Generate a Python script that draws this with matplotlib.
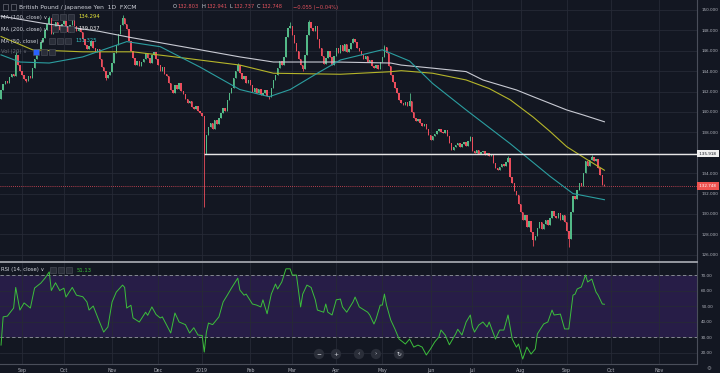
import matplotlib.pyplot as plt
import numpy as np
import pandas as pd
from matplotlib.patches import Rectangle

# GBP/JPY daily closes (FXCM), one per business day from 2018-08-20
closes = [
    142.2, 142.7, 143.0, 142.8, 143.4, 143.7, 143.5, 145.6, 144.6, 144.0,   # 0
    143.6, 143.2, 143.0, 143.5, 143.3, 144.3, 145.2, 146.0, 146.2, 146.9,   # 10
    147.3, 148.0, 148.6, 149.2, 147.6, 148.3, 148.8, 148.5, 148.0, 148.6,   # 20
    148.9, 148.3, 147.8, 148.5, 149.0, 148.4, 147.9, 148.2, 147.8, 147.2,   # 30
    146.6, 146.2, 146.5, 147.0, 146.3, 145.9, 146.2, 145.2, 144.4, 144.0,   # 40
    143.3, 143.6, 143.9, 144.8, 145.8, 146.6, 147.6, 148.5, 149.2, 148.6,   # 50
    148.1, 147.0, 146.0, 145.3, 144.6, 145.0, 144.5, 144.9, 145.2, 145.8,   # 60
    145.3, 144.8, 145.6, 145.9, 145.2, 144.6, 144.0, 144.4, 143.7, 143.5,   # 70
    142.8, 142.2, 141.9, 142.6, 142.3, 142.8, 142.1, 141.8, 141.3, 140.9,   # 80
    141.1, 140.5, 140.3, 140.6, 140.1, 139.9, 139.6, 135.92, 137.7, 138.5,  # 90
    138.9, 138.3, 139.2, 138.8, 139.4, 139.9, 140.4, 140.1, 141.2, 141.9,   # 100
    142.4, 143.3, 144.0, 144.6, 143.8, 143.2, 143.5, 142.8, 143.1, 142.6,   # 110
    142.0, 142.4, 141.9, 142.3, 141.7, 141.9, 142.2, 141.6, 141.5, 142.4,   # 120
    143.1, 143.6, 144.3, 145.0, 144.6, 145.4, 147.4, 148.2, 148.4, 147.5,   # 130
    146.8, 146.0, 145.2, 144.6, 144.2, 145.6, 147.5, 148.8, 148.2, 147.9,   # 140
    148.4, 147.2, 146.3, 145.5, 144.7, 145.3, 146.0, 145.4, 144.6, 145.5,   # 150
    146.3, 145.8, 146.6, 146.0, 146.7, 145.9, 146.2, 146.8, 147.2, 146.9,   # 160
    146.3, 146.0, 145.6, 145.2, 145.5, 144.9, 145.1, 144.5, 144.3, 144.6,   # 170
    144.2, 144.9, 145.4, 146.4, 145.8, 144.5, 143.6, 142.9, 142.4, 141.9,   # 180
    141.2, 140.9, 140.7, 141.0, 140.6, 141.1, 140.0, 139.4, 139.1, 139.3,   # 190
    138.9, 138.6, 138.8, 138.3, 137.7, 137.3, 137.6, 137.8, 138.1, 138.3,   # 200
    138.0, 137.9, 138.2, 137.6, 137.0, 136.3, 136.6, 136.8, 137.0, 136.6,   # 210
    136.9, 137.1, 136.7, 137.2, 137.5, 136.2, 136.0, 136.3, 135.9, 136.1,   # 220
    136.2, 135.8, 136.0, 135.7, 135.9, 135.0, 134.5, 134.3, 134.6, 134.9,   # 230
    134.7, 135.1, 135.5, 133.6, 133.0, 132.3, 131.9, 131.0, 130.2, 129.4,   # 240
    129.9, 128.7, 129.3, 128.2, 127.4, 127.8, 128.6, 129.2, 128.5, 129.0,   # 250
    129.4, 128.9, 129.6, 130.3, 129.8, 129.6, 130.1, 129.4, 129.9, 129.2,   # 260
    128.3, 127.5, 130.2, 131.8, 131.5, 132.4, 133.0, 132.7, 134.0, 135.2,   # 270
    134.7, 135.3, 135.6, 135.2, 135.4, 134.5, 133.8, 132.803, 132.748,      # 280
]
first_open = 141.3

# wicks that stand out of the bodies
wick_highs = {7: 145.9, 23: 149.4, 34: 149.2, 58: 149.5, 113: 144.8, 138: 148.8,
              147: 149.0, 168: 147.3, 183: 146.6, 195: 141.9, 224: 137.6,
              242: 135.7, 282: 135.8, 288: 132.941}
wick_lows = {12: 142.9, 50: 143.1, 97: 130.7, 128: 141.3, 144: 144.0,
             254: 126.9, 271: 126.8, 288: 132.737}

# moving averages: (bar, value)
ma100_pts = [(0, 147.4), (15, 146.1), (39, 145.9), (63, 145.9), (87, 145.3), (114, 144.6),
             (130, 143.8), (162, 143.7), (186, 143.95), (191, 144.05), (206, 143.8),
             (222, 143.14), (233, 142.3), (243, 141.2), (254, 139.5), (262, 138.1),
             (270, 136.6), (280, 135.3), (288, 134.29)]
ma200_pts = [(0, 149.4), (20, 148.7), (47, 147.9), (62, 147.3), (95, 146.1), (114, 145.4),
             (130, 144.9), (160, 144.9), (186, 144.8), (191, 144.6), (206, 144.3),
             (222, 143.96), (230, 143.14), (238, 142.65), (246, 142.16), (254, 141.5),
             (262, 140.85), (270, 140.2), (278, 139.7), (288, 139.04)]
ma50_pts = [(0, 145.6), (9, 144.9), (23, 144.8), (39, 145.4), (60, 146.9), (76, 146.4),
            (95, 144.4), (114, 142.2), (128, 141.5), (138, 142.2), (151, 143.8),
            (162, 145.1), (182, 146.1), (195, 145.0), (206, 142.8), (222, 140.2),
            (243, 136.9), (262, 133.7), (273, 132.0), (288, 131.4)]

# RSI(14): (bar, value)
rsi_pts = [(0, 24.8), (1, 43), (3, 43.5), (6, 48.7), (7, 62), (9, 47.4), (11, 52), (14, 48.7),
           (16, 61.6), (19, 64.8), (21, 68), (23, 72), (24, 60), (26, 65), (28, 60), (30, 61.5),
           (31, 55.8), (34, 62), (36, 57), (39, 56), (41, 52.6), (42, 47.4), (44, 50),
           (47, 39.7), (49, 33.2), (51, 36.5), (53, 52.6), (55, 59), (58, 63.5), (59, 62),
           (60, 48.7), (62, 50.5), (63, 42.3), (66, 39.7), (69, 46), (70, 44), (72, 49.4),
           (74, 44.5), (76, 42.3), (77, 43), (81, 32.6), (83, 45.5), (85, 39.7), (88, 38),
           (90, 32.6), (92, 36), (94, 31.3), (96, 31), (97, 20.3), (98, 33), (99, 39),
           (101, 38), (104, 43), (106, 52.6), (108, 57), (110, 61.6), (113, 68), (114, 60.3),
           (116, 57), (117, 57.7), (120, 51.3), (122, 50.6), (124, 49.4), (125, 54), (127, 45),
           (129, 57.7), (131, 64.2), (132, 61), (134, 65.5), (136, 74), (138, 74), (139, 70),
           (141, 70), (143, 49.4), (144, 57.7), (146, 63.5), (148, 62), (150, 54), (151, 47.4),
           (154, 46), (155, 51.3), (156, 46), (158, 44.2), (160, 54), (162, 54.5), (163, 49.4),
           (165, 46), (168, 52.6), (169, 55.8), (171, 49.4), (175, 46), (176, 44.2), (178, 38.4),
           (179, 41.6), (181, 50.6), (182, 50.6), (183, 57.7), (184, 50.6), (186, 41),
           (188, 35.2), (190, 28.7), (193, 25.5), (195, 28.7), (197, 23.5), (199, 24.8),
           (201, 23.5), (203, 18.4), (205, 22.3), (207, 26.8), (209, 30), (210, 34.5),
           (212, 31.3), (214, 25), (217, 32), (218, 35), (220, 31.3), (222, 39.7), (224, 44.2),
           (225, 36.5), (226, 33.2), (228, 37.7), (230, 39.7), (232, 36.5), (233, 39.7),
           (236, 28.7), (238, 34.5), (240, 34.5), (242, 44.2), (244, 28.7), (246, 23.5),
           (247, 25.5), (249, 15.8), (251, 23.5), (253, 19), (255, 22.3), (256, 32),
           (259, 38.4), (261, 39.7), (263, 47.4), (264, 44.2), (267, 44.8), (269, 35.2),
           (271, 35.2), (273, 57), (274, 57.7), (275, 61), (277, 62.3), (279, 70), (280, 65.5),
           (282, 67.4), (284, 59), (285, 57), (287, 51.3), (288, 51.13)]

support_level = 135.918
last_price = 132.748

BG = '#131722'
GRID = '#262a36'
TXT = '#b2b5be'
UP = '#53b987'
DOWN = '#eb4d5c'
AXFS = 2.95

W, H = 720, 373
fig = plt.figure(figsize=(W / 100, H / 100), dpi=100, facecolor=BG)


def fx(px):
    return px / W


def fy(py):
    return 1 - py / H


ax = fig.add_axes([0, fy(261), fx(697), 261 / H], facecolor=BG)
ax_r = fig.add_axes([0, fy(364), fx(697), (364 - 262) / H], facecolor=BG, sharex=ax)

n = len(closes)
idx = np.arange(n)
c = np.array(closes)
o = np.array([first_open] + closes[:-1])
hi = np.maximum(o, c)
lo = np.minimum(o, c)
for k, v in wick_highs.items():
    hi[k] = v
for k, v in wick_lows.items():
    lo[k] = v
up = c >= o
cols = np.where(up, UP, DOWN)

ax.vlines(idx, lo, hi, colors=cols, lw=0.6, zorder=3)
body = np.maximum(np.abs(c - o), 0.06)
ax.bar(idx, body, bottom=np.minimum(o, c), width=0.7, color=cols, lw=0, zorder=4)

for pts, col in [(ma200_pts, '#c8cad3'), (ma100_pts, '#b5b52a'), (ma50_pts, '#2b9ea0')]:
    xs, ys = zip(*pts)
    ax.plot(xs, ys, color=col, lw=0.8, zorder=5)

ax.hlines(support_level, 97, 340, color='#e6e6e6', lw=1.0, zorder=6)
ax.axhline(last_price, color=DOWN, lw=0.6, ls=(0, (1, 1.5)), zorder=2)

# x scale: bars spaced by business day, future area up to end of Nov 2019
ext = pd.bdate_range('2018-08-20', '2019-11-29')
pos, labs = [], []
for i, d in enumerate(ext):
    if i > 0 and d.month != ext[i - 1].month:
        pos.append(i)
        labs.append('2019' if (d.month == 1) else d.strftime('%b'))
ax.set_xlim(-0.5, 332.2)
ax.set_ylim(125.39, 150.98)
ax.set_xticks(pos)
pticks = np.arange(126, 151, 2)
ax.set_yticks(pticks)
ax.yaxis.tick_right()
# the 136 label sits under the 135.918 tag
ax.set_yticklabels(['' if v == 136 else '%.3f' % v for v in pticks])
ax.tick_params(axis='y', labelsize=AXFS, colors=TXT, length=0, pad=3)
ax.tick_params(axis='x', labelbottom=False, length=0)
ax.grid(color=GRID, lw=0.6)
ax.set_axisbelow(True)
for s in ax.spines.values():
    s.set_visible(False)
ax.spines['right'].set_visible(True)
ax.spines['right'].set_color('#4a4e5a')
ax.spines['right'].set_linewidth(0.8)

# RSI pane
ax_r.axhspan(30, 70, color='#271d47', zorder=0.1, lw=0)
rx, ry = zip(*rsi_pts)
ax_r.plot(rx, ry, color='#3cbf3c', lw=0.7, zorder=5)
for lvl in (70, 30):
    ax_r.axhline(lvl, color='#9598a1', lw=0.6, ls=(0, (4, 3)), zorder=3)
ax_r.set_ylim(12.6, 78.4)
rticks = [20, 30, 40, 50, 60, 70]
ax_r.set_yticks(rticks)
ax_r.yaxis.tick_right()
ax_r.set_yticklabels(['%.2f' % v for v in rticks])
ax_r.tick_params(axis='y', labelsize=AXFS, colors=TXT, length=0, pad=3)
ax_r.set_xticks(pos)
ax_r.set_xticklabels(labs)
ax_r.tick_params(axis='x', labelsize=3.4, colors=TXT, length=0, pad=3)
ax_r.grid(color=GRID, lw=0.6)
ax_r.set_axisbelow(True)
for s in ax_r.spines.values():
    s.set_visible(False)
ax_r.spines['right'].set_visible(True)
ax_r.spines['right'].set_color('#4a4e5a')
ax_r.spines['right'].set_linewidth(0.8)
ax_r.spines['top'].set_visible(True)
ax_r.spines['top'].set_color('#a0a3ab')
ax_r.spines['top'].set_linewidth(1.3)
ax_r.spines['bottom'].set_visible(True)
ax_r.spines['bottom'].set_color('#4a4e5a')
ax_r.spines['bottom'].set_linewidth(0.8)

# price tags on the axis
ax.text(1.002, support_level, ' 135.918 ', transform=ax.get_yaxis_transform(), fontsize=AXFS,
        color='#131722', va='center', ha='left', zorder=10, clip_on=False,
        bbox=dict(boxstyle='square,pad=0.45', fc='#f0f0f0', ec='none'))
ax.text(1.002, last_price, ' 132.748 ', transform=ax.get_yaxis_transform(), fontsize=AXFS,
        color='white', va='center', ha='left', zorder=10, clip_on=False,
        bbox=dict(boxstyle='square,pad=0.45', fc='#ef5350', ec='none'))

# header
fig.text(fx(19), fy(7), 'British Pound / Japanese Yen  1D  FXCM', fontsize=4.3,
         color='#d1d4dc', va='center')
hdr = [('O', 173, '132.803'), ('H', 202, '132.941'), ('L', 229, '132.737'), ('C', 257, '132.748')]
for letter, px, val in hdr:
    fig.text(fx(px), fy(7), letter, fontsize=3.7, color='#d1d4dc', va='center')
    fig.text(fx(px + 4), fy(7), val, fontsize=3.7, color='#e0525d', va='center')
fig.text(fx(293), fy(7), '−0.055 (−0.04%)', fontsize=3.7, color='#e0525d', va='center')
fig.patches.append(Rectangle((fx(3), fy(10)), fx(5), 6 / H, transform=fig.transFigure,
                             fc='none', ec='#6a6d78', lw=0.5))
fig.patches.append(Rectangle((fx(11), fy(10)), fx(5), 6 / H, transform=fig.transFigure,
                             fc='none', ec='#6a6d78', lw=0.5))


def icons(x0, y, first='#2a2e39'):
    for j in range(3):
        fig.patches.append(Rectangle((fx(x0 + j * 8), fy(y + 3)), fx(6), 6 / H,
                                     transform=fig.transFigure,
                                     fc=first if j == 0 else '#2a2e39', ec='#50535e', lw=0.4))


legend_rows = [('MA (100, close) ∨', 17, '134.294', '#e3e33a', 52),
               ('MA (200, close) ∨', 29, '139.037', '#e8e8e8', 52),
               ('MA (50, close) ∨', 41, '131.325', '#35c2c4', 49)]
for label, py, val, col, ix in legend_rows:
    fig.text(fx(1), fy(py), label, fontsize=3.8, color='#d1d4dc', va='center')
    icons(ix, py)
    fig.text(fx(78 if ix == 52 else 75), fy(py), val, fontsize=3.8, color=col, va='center')
fig.text(fx(1), fy(52), 'Vol (20) ∨', fontsize=3.8, color='#6a6d78', va='center')
icons(33, 52, first='#2962ff')

fig.text(fx(1), fy(270), 'RSI (14, close) ∨', fontsize=3.8, color='#d1d4dc', va='center')
icons(50, 270)
fig.text(fx(77), fy(270), '51.13', fontsize=3.8, color='#3cbf3c', va='center')

# navigation buttons
for px, sym in [(319, '−'), (336, '+'), (359, '‹'), (376, '›'), (399, '↻')]:
    fig.text(fx(px), fy(354), sym, fontsize=4.2, color='#d1d4dc', ha='center', va='center',
             bbox=dict(boxstyle='circle,pad=0.45', fc='#2a2e39', ec='none'))
fig.text(fx(709), fy(369), '⚙', fontsize=4, color='#8a8d96', ha='center', va='center')

fig.savefig('out.png', dpi=100, facecolor=BG)
